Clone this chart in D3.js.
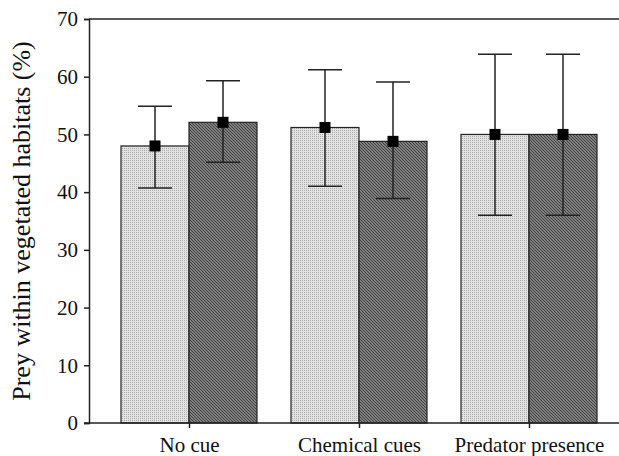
<!DOCTYPE html>
<html>
<head>
<meta charset="utf-8">
<script src="https://cdn.jsdelivr.net/npm/d3@7"></script>
<style>
  body { margin: 0; background: #fff; }
  svg { display: block; font-family: "Liberation Serif", "Times New Roman", serif; }
</style>
</head>
<body>
<script>
// categories and two treatments per category
var categories = ["No cue", "Chemical cues", "Predator presence"];
var groups = ["light", "dark"];
var lightMeans = [48.0, 51.2, 50.0];
var lightLow   = [40.7, 41.0, 36.0];
var lightHigh  = [54.9, 61.2, 63.9];
var darkMeans  = [52.1, 48.8, 50.0];
var darkLow    = [45.2, 38.9, 36.0];
var darkHigh   = [59.3, 59.1, 63.9];
var yTicks = [0, 10, 20, 30, 40, 50, 60, 70];

var width = 619, height = 456;
var plotLeft = 89, plotTop = 19, plotBottom = 423;

var rows = [];
categories.forEach(function(c, i) {
  rows.push({cat: c, g: "light", mean: lightMeans[i], lo: lightLow[i], hi: lightHigh[i]});
  rows.push({cat: c, g: "dark", mean: darkMeans[i], lo: darkLow[i], hi: darkHigh[i]});
});

var svg = d3.select("body").append("svg").attr("width", width).attr("height", height);

var defs = svg.append("defs");
// fine dotted light grey fill
var p1 = defs.append("pattern").attr("id", "dots").attr("patternUnits", "userSpaceOnUse")
  .attr("width", 2).attr("height", 2);
p1.append("rect").attr("width", 2).attr("height", 2).attr("fill", "#e2e2e2");
p1.append("rect").attr("width", 1).attr("height", 1).attr("fill", "#adadad");
// dark diagonal hatching
var p2 = defs.append("pattern").attr("id", "hatch").attr("patternUnits", "userSpaceOnUse")
  .attr("width", 3).attr("height", 3);
p2.append("rect").attr("width", 3).attr("height", 3).attr("fill", "#9a9a9a");
p2.append("path").attr("d", "M0,0 L3,3 M-1,2 L1,4 M2,-1 L4,1")
  .attr("stroke", "#3c3c3c").attr("stroke-width", 1.1);

var y = d3.scaleLinear().domain([0, 70]).range([plotBottom, plotTop]);
var x = d3.scaleBand().domain(categories).range([104, 614]).paddingInner(0.2).paddingOuter(0.1);
var xg = d3.scaleBand().domain(groups).range([0, x.bandwidth()]);

// bars
svg.selectAll("rect.bar").data(rows).enter().append("rect")
  .attr("class", "bar")
  .attr("x", function(d) { return x(d.cat) + xg(d.g); })
  .attr("y", function(d) { return y(d.mean); })
  .attr("width", xg.bandwidth())
  .attr("height", function(d) { return y(0) - y(d.mean); })
  .attr("fill", function(d) { return d.g == "light" ? "url(#dots)" : "url(#hatch)"; })
  .attr("stroke", "#222").attr("stroke-width", 1.2);

// error bars
var eb = svg.selectAll("g.err").data(rows).enter().append("g")
  .attr("transform", function(d) { return "translate(" + (x(d.cat) + xg(d.g) + xg.bandwidth() / 2) + ",0)"; });
eb.append("line").attr("x1", 0).attr("x2", 0)
  .attr("y1", function(d) { return y(d.lo); }).attr("y2", function(d) { return y(d.hi); })
  .attr("stroke", "#222").attr("stroke-width", 1.5);
eb.append("line").attr("x1", -17).attr("x2", 17)
  .attr("y1", function(d) { return y(d.hi); }).attr("y2", function(d) { return y(d.hi); })
  .attr("stroke", "#222").attr("stroke-width", 1.5);
eb.append("line").attr("x1", -17).attr("x2", 17)
  .attr("y1", function(d) { return y(d.lo); }).attr("y2", function(d) { return y(d.lo); })
  .attr("stroke", "#222").attr("stroke-width", 1.5);
eb.append("rect").attr("x", -5.5).attr("width", 11).attr("height", 11)
  .attr("y", function(d) { return y(d.mean) - 5.5; })
  .attr("fill", "#000");

// axes
var yAxis = svg.append("g").attr("transform", "translate(" + plotLeft + ",0)")
  .call(d3.axisLeft(y).tickValues(yTicks).tickSize(5).tickPadding(6));
yAxis.selectAll("text").attr("font-size", 21).attr("font-family", "Liberation Serif").attr("fill", "#111");
yAxis.selectAll("line, path").attr("stroke", "#222").attr("stroke-width", 1.5);

var xAxis = svg.append("g").attr("transform", "translate(0," + plotBottom + ")")
  .call(d3.axisBottom(d3.scalePoint().domain(categories).range([x(categories[0]) + x.bandwidth() / 2, x(categories[2]) + x.bandwidth() / 2]))
    .tickSize(5).tickPadding(9));
xAxis.select("path").remove();
xAxis.selectAll("line").attr("stroke", "#222").attr("stroke-width", 1.5);
xAxis.selectAll("text").attr("font-size", 21).attr("font-family", "Liberation Serif").attr("fill", "#111");

svg.append("line").attr("x1", plotLeft - 5).attr("x2", width).attr("y1", plotBottom).attr("y2", plotBottom)
  .attr("stroke", "#222").attr("stroke-width", 1.5);
svg.append("line").attr("x1", plotLeft).attr("x2", width).attr("y1", plotTop).attr("y2", plotTop)
  .attr("stroke", "#222").attr("stroke-width", 1.5);

svg.append("text")
  .attr("transform", "translate(30," + ((plotTop + plotBottom) / 2) + ") rotate(-90)")
  .attr("text-anchor", "middle")
  .attr("font-size", 26).attr("fill", "#111")
  .text("Prey within vegetated habitats (%)");
</script>
</body>
</html>
